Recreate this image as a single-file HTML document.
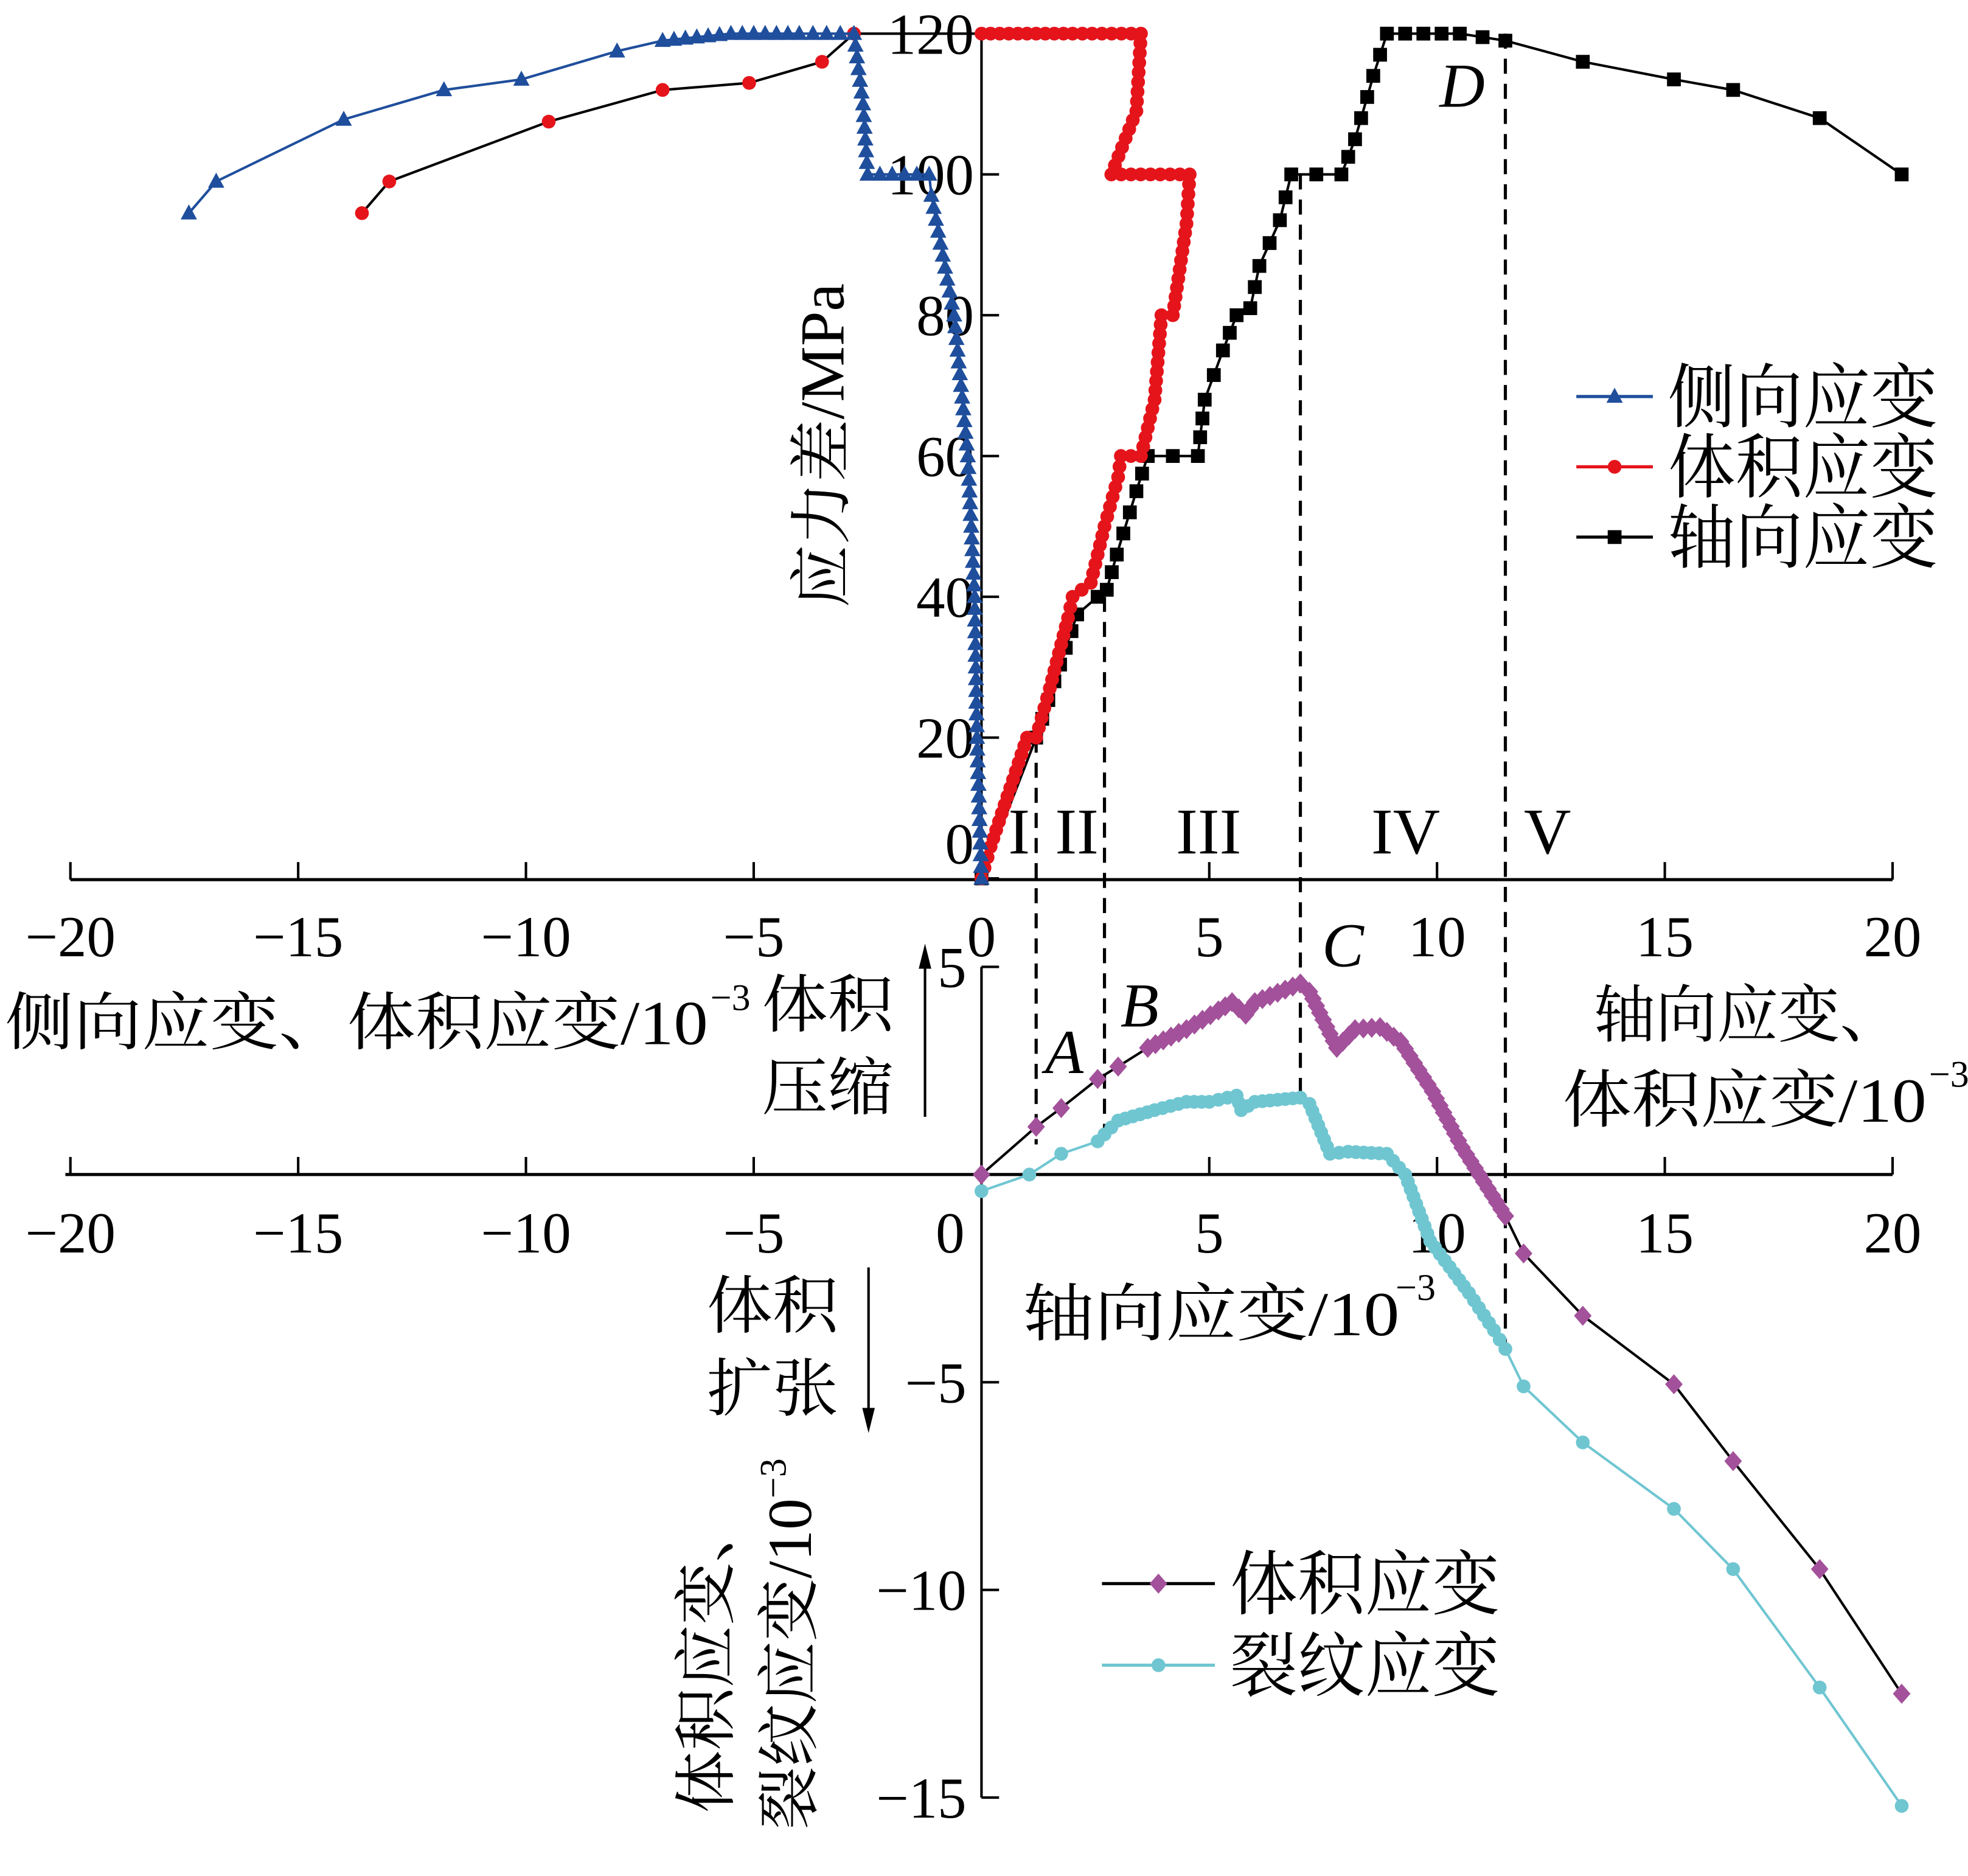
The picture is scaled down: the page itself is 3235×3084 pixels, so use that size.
<!DOCTYPE html>
<html><head><meta charset="utf-8"><style>
html,body{margin:0;padding:0;background:#fff}
svg{display:block}
text{font-family:"Liberation Serif","Noto Serif CJK SC",serif;fill:#000}
</style></head><body>
<svg id="chart" width="3235" height="3084" viewBox="0 0 1568 1495" xmlns="http://www.w3.org/2000/svg">
<g id="axes"></g>
<g id="series"></g>
<g id="labels">
  <text x="0" y="0" font-size="50" text-anchor="middle" transform="translate(672,355) rotate(-90)">应力差/MPa</text>
  <text x="4" y="832" font-size="50" textLength="560" lengthAdjust="spacingAndGlyphs">侧向应变、体积应变/10</text>
  <text x="566" y="805" font-size="30">−3</text>
  <text x="607" y="818" font-size="50" textLength="105" lengthAdjust="spacingAndGlyphs">体积</text>
  <text x="607" y="884" font-size="50" textLength="105" lengthAdjust="spacingAndGlyphs">压缩</text>
  <text x="1270" y="826" font-size="50" textLength="245" lengthAdjust="spacingAndGlyphs">轴向应变、</text>
  <text x="1245" y="894" font-size="50" textLength="290" lengthAdjust="spacingAndGlyphs">体积应变/10</text>
  <text x="1537" y="866" font-size="30">−3</text>
  <text x="815" y="1064" font-size="50" textLength="300" lengthAdjust="spacingAndGlyphs">轴向应变/10</text>
  <text x="1112" y="1036" font-size="30">−3</text>
  <text x="563" y="1058" font-size="50" textLength="105" lengthAdjust="spacingAndGlyphs">体积</text>
  <text x="563" y="1124" font-size="50" textLength="105" lengthAdjust="spacingAndGlyphs">扩张</text>
  <text x="0" y="0" font-size="50" text-anchor="middle" transform="translate(580,1320) rotate(-90)">体积应变、</text>
  <text x="0" y="0" font-size="50" text-anchor="middle" transform="translate(646,1310) rotate(-90)">裂纹应变/10<tspan font-size="30" dy="-20">−3</tspan></text>
  <text x="812" y="680" font-size="52" text-anchor="middle">I</text>
  <text x="858" y="680" font-size="52" text-anchor="middle">II</text>
  <text x="963" y="680" font-size="52" text-anchor="middle">III</text>
  <text x="1120" y="680" font-size="52" text-anchor="middle">IV</text>
  <text x="1233" y="680" font-size="52" text-anchor="middle">V</text>
  <text x="1165" y="85" font-size="50" font-style="italic" text-anchor="middle">D</text>
  <text x="1070" y="770" font-size="50" font-style="italic" text-anchor="middle">C</text>
  <text x="908" y="818" font-size="50" font-style="italic" text-anchor="middle">B</text>
  <text x="848" y="855" font-size="50" font-style="italic" text-anchor="middle">A</text>
  <g>
    <line x1="737" y1="890" x2="737" y2="765" stroke="#000" stroke-width="2"/>
    <polygon points="737,752 732,772 742,772" fill="#000"/>
  </g>
  <g>
    <line x1="692" y1="1010" x2="692" y2="1128" stroke="#000" stroke-width="2"/>
    <polygon points="692,1142 687,1122 697,1122" fill="#000"/>
  </g>
</g>
<g id="legend"></g>
</svg>
<script>
// Upper chart: stress difference (MPa) vs strain (1e-3)
const lateralStrain = [0,-0.1,-0.15,-0.3,-0.6,-1.1,-1.15,-2.5,-2.6,-2.8,-4,-5.5,-7,-8,-10.1,-11.8,-14,-16.8,-17.4];
const lateralStress = [0,20,40,60,80,97,100,100,110,120,120,120,119,117.5,113.5,112,107.8,99,94.5];
const volStrainU = [0,0.2,1,1.2,1.5,1.9,2,2.4,2.7,3,3.06,3.5,3.8,3.95,4.2,4.5,4.57,2.85,3.4,3.5,2,0,-2.8,-3.5,-5.1,-7,-9.5,-13,-13.6];
const volStressU = [0,4.5,20,20,27,37,40,42,50,57,60,60,68,80,80,93,100,100,109,120,120,120,120,116,113,112,107.5,99,94.5];
const axialStrain = [0,1.2,1.6,2.1,2.55,2.75,2.97,3.4,3.65,4.75,4.9,5.3,5.6,5.9,6.1,6.55,6.8,7.9,8.2,8.6,8.9,10.5,11.5,13.2,15.2,16.5,18.4,20.2];
const axialStress = [0,20,28,37.5,40,41,46,55,60,60,68,75,80,81,87,93.5,100,100,105,114,120,120,119,116,113.5,112,108,100];
// Lower chart: volumetric / crack strain (1e-3) vs axial strain (1e-3)
const lowAxial = [0,1.2,1.75,2.55,3,3.65,4.5,5.2,5.5,5.8,6,7,7.2,7.8,8.2,8.75,9.2,9.9,10.55,11.5,11.9,13.2,15.2,16.5,18.4,20.2];
const lowVol = [0,1.15,1.6,2.3,2.6,3.05,3.5,3.95,4.15,3.85,4.15,4.6,4.4,3.05,3.5,3.55,3.2,2,0.65,-1,-1.9,-3.4,-5.05,-6.9,-9.5,-12.5];
const crackAxial = [0,1.05,1.75,2.55,3,3.8,4.5,5,5.6,5.7,6,7,7.2,7.65,8.05,8.9,9.3,9.85,10.7,11.25,11.5,11.9,13.2,15.2,16.5,18.4,20.2];
const crackVal = [-0.4,0,0.5,0.8,1.3,1.55,1.75,1.75,1.9,1.55,1.75,1.85,1.7,0.5,0.55,0.5,0,-1.6,-2.85,-3.75,-4.2,-5.1,-6.45,-8.05,-9.5,-12.35,-15.2];
const xTicks = [-20,-15,-10,-5,0,5,10,15,20];
const stressTicks = [0,20,40,60,80,100,120];
const lowTicks = [5,0,-5,-10,-15];
const stageLines = [1.2,2.7,7,11.5];

const NS='http://www.w3.org/2000/svg';
const X = v => 782 + v*36.3;
const YU = v => 700 - v*5.61;
const YL = v => 936 - v*33.1;
function mk(tag, attrs, parent){const e=document.createElementNS(NS,tag);for(const k in attrs)e.setAttribute(k,attrs[k]);parent.appendChild(e);return e;}
const axes=document.getElementById('axes'), series=document.getElementById('series'), legend=document.getElementById('legend');

let e;
e=mk('line',{x1:56,y1:701,x2:1508,y2:701,stroke:'#000','stroke-width':2.5},axes);


e=mk('line',{x1:52,y1:936,x2:1508,y2:936,stroke:'#000','stroke-width':2.5},axes);


e=mk('line',{x1:782,y1:YU(120),x2:782,y2:701,stroke:'#000','stroke-width':2},axes);


e=mk('line',{x1:782,y1:YL(5),x2:782,y2:YL(-15),stroke:'#000','stroke-width':2},axes);


xTicks.forEach(t=>{
  const lab = t<0 ? '−'+(-t) : String(t);
  mk('line',{x1:X(t),y1:701,x2:X(t),y2:687,stroke:'#000','stroke-width':2},axes);
  e=mk('text',{x:X(t),y:762,'font-size':46,'text-anchor':'middle'},axes);
  e.textContent=lab;
  
  
  if(t!==0) mk('line',{x1:X(t),y1:936,x2:X(t),y2:922,stroke:'#000','stroke-width':2},axes);
  e=mk('text',{x:t===0?757:X(t),y:998,'font-size':46,'text-anchor':'middle'},axes);
  e.textContent=lab;
  
  
});
stressTicks.forEach(t=>{
  mk('line',{x1:782,y1:YU(t),x2:796,y2:YU(t),stroke:'#000','stroke-width':2},axes);
  e=mk('text',{x:776,y:t===0?688:YU(t)+16,'font-size':46,'text-anchor':'end'},axes);
  e.textContent=String(t);
  
  
});
lowTicks.forEach(t=>{
  if(t!==0) mk('line',{x1:782,y1:YL(t),x2:796,y2:YL(t),stroke:'#000','stroke-width':2},axes);
  if(t===0) return;
  e=mk('text',{x:770,y:YL(t)+16,'font-size':46,'text-anchor':'end'},axes);
  e.textContent=t<0?'−'+(-t):String(t);
  
  
});
const stageTop=[YU(20),YU(40),YU(100),YU(120)];
const stageBot=[912,905,880,1080];
stageLines.forEach((s,i)=>{
  e=mk('line',{x1:X(s),y1:stageTop[i],x2:X(s),y2:stageBot[i],stroke:'#000','stroke-width':2.5,'stroke-dasharray':'12,8'},axes);
  
  
});

function marker(type,x,y,color,g){
  if(type==='tri') return mk('polygon',{points:`${x},${y-7} ${x-6.5},${y+5} ${x+6.5},${y+5}`,fill:color},g);
  if(type==='circ') return mk('circle',{cx:x,cy:y,r:5.5,fill:color},g);
  if(type==='sq') return mk('rect',{x:x-5.5,y:y-5.5,width:11,height:11,fill:color},g);
  if(type==='dia') return mk('polygon',{points:`${x},${y-8} ${x+7},${y} ${x},${y+8} ${x-7},${y}`,fill:color},g);
}
function drawSeries(name,xs,ys,fx,fy,line,mcol,mtype,dmin,dmax,step){
  const g=mk('g',{},series);
  
  
  const d=xs.map((v,i)=>(i?'L':'M')+fx(v).toFixed(1)+','+fy(ys[i]).toFixed(1)).join(' ');
  mk('path',{d:d,fill:'none',stroke:line,'stroke-width':2},g);
  xs.forEach((v,i)=>{const m=marker(mtype,fx(v),fy(ys[i]),mcol,g);
    
    });
  for(let i=0;i<xs.length-1;i++){
    const inZone = (xs[i]>=dmin&&xs[i]<=dmax)&&(xs[i+1]>=dmin&&xs[i+1]<=dmax);
    if(!inZone) continue;
    const x1=fx(xs[i]),y1=fy(ys[i]),x2=fx(xs[i+1]),y2=fy(ys[i+1]);
    const L=Math.hypot(x2-x1,y2-y1); const n=Math.floor(L/step);
    for(let k=1;k<n;k++){const t=k/n;
      const m=marker(mtype,x1+(x2-x1)*t,y1+(y2-y1)*t,mcol,g);
      
      }
  }
}
drawSeries('axial-strain-series',axialStrain,axialStress,X,YU,'#000','#000','sq',0.9,11.6,14);
drawSeries('volumetric-strain-upper-series',volStrainU,volStressU,X,YU,'#000','#e5141b','circ',0,4.6,7);
drawSeries('lateral-strain-series',lateralStrain,lateralStress,X,YU,'#1f4e9c','#1f4e9c','tri',-7.1,0,9);
drawSeries('crack-strain-series',crackAxial,crackVal,X,YL,'#6fc6d1','#6fc6d1','circ',2.5,11.6,6);
drawSeries('volumetric-strain-lower-series',lowAxial,lowVol,X,YL,'#000','#a3519b','dia',3.6,11.6,6);

function legendEntry(x1,x2,y,line,mcol,mtype,label,name){
  const g=mk('g',{},legend);
  
  
  mk('line',{x1:x1,y1:y,x2:x2,y2:y,stroke:line,'stroke-width':2.5},g);
  marker(mtype,(x1+x2)/2,y,mcol,g);
  const t=mk('text',{x:x2+12,y:y+20,'font-size':56,textLength:215,lengthAdjust:'spacingAndGlyphs'},g);
  t.textContent=label;
}
legendEntry(1256,1317,316,'#1f4e9c','#1f4e9c','tri','侧向应变','legend-lateral');
legendEntry(1256,1317,372,'#e5141b','#e5141b','circ','体积应变','legend-volumetric');
legendEntry(1256,1317,428,'#000','#000','sq','轴向应变','legend-axial');
legendEntry(878,968,1262,'#000','#a3519b','dia','体积应变','legend-lower-volumetric');
legendEntry(878,968,1327,'#6fc6d1','#6fc6d1','circ','裂纹应变','legend-crack');
</script>
</body></html>
